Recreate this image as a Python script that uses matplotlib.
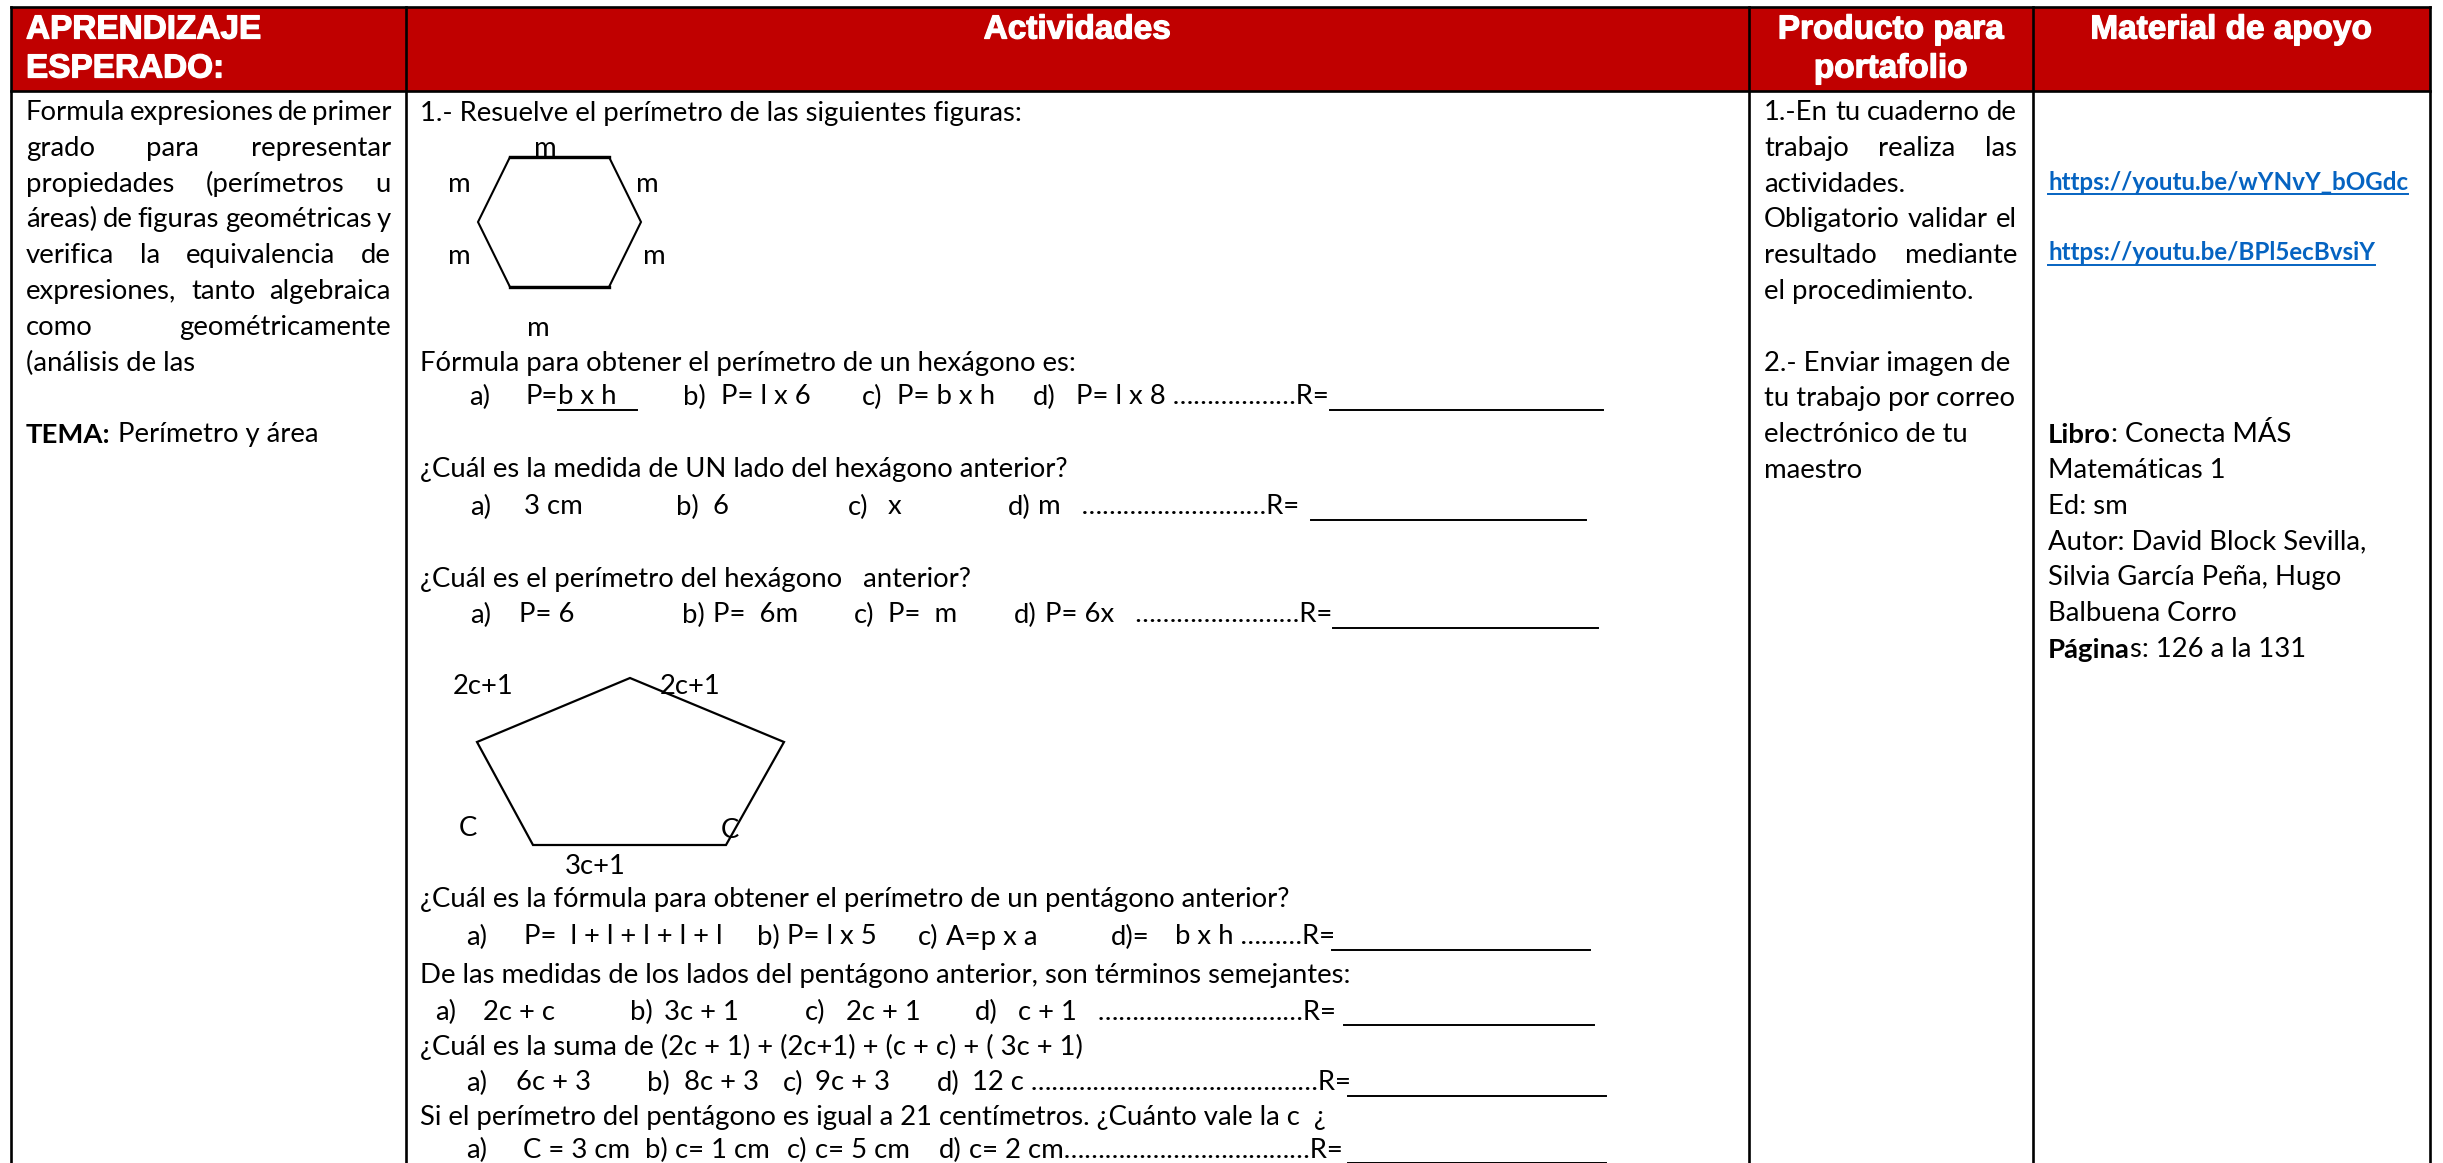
import matplotlib
matplotlib.use('Agg')
import matplotlib.pyplot as plt
from matplotlib.patches import Rectangle, Polygon
import matplotlib.patheffects as pe

# ---------------- content (text data) ----------------
header_aprendizaje = ["APRENDIZAJE", "ESPERADO:"]
header_actividades = "Actividades"
header_producto = ["Producto para", "portafolio"]
header_material = "Material de apoyo"

aprendizaje_lines = [
    "Formula expresiones de primer",
    "grado para representar",
    "propiedades (perímetros u",
    "áreas) de figuras geométricas y",
    "verifica la equivalencia de",
    "expresiones, tanto algebraica",
    "como geométricamente",
    "(análisis de las",
]
aprendizaje_justify = [True, True, True, True, True, True, True, False]
tema_label = "TEMA:"
tema_text = " Perímetro y área"

act_questions = [
    "1.- Resuelve el perímetro de las siguientes figuras:",
    "Fórmula para obtener el perímetro de un hexágono es:",
    "¿Cuál es la medida de UN lado del hexágono anterior?",
    "¿Cuál es el perímetro del hexágono   anterior?",
    "¿Cuál es la fórmula para obtener el perímetro de un pentágono anterior?",
    "De las medidas de los lados del pentágono anterior, son términos semejantes:",
    "¿Cuál es la suma de (2c + 1) + (2c+1) + (c + c) + ( 3c + 1)",
    "Si el perímetro del pentágono es igual a 21 centímetros. ¿Cuánto vale la c  ¿",
]

opt_labels = [
    ["a)", "b)", "c)", "d)"],
    ["a)", "b)", "c)", "d)"],
    ["a)", "b)", "c)", "d)"],
    ["a)", "b)", "c)", "d)="],
    ["a)", "b)", "c)", "d)"],
    ["a)", "b)", "c)", "d)"],
    ["a)", "b)", "c)", "d)"],
]
opt_texts = [
    ["P=", "P= l x 6", "P= b x h", "P= l x 8 "],
    ["3 cm", "6", "x", "m   "],
    ["P= 6", "P=  6m", "P=  m", "P= 6x   "],
    ["P=  l + l + l + l + l", "P= l x 5", "A=p x a", "b x h "],
    ["2c + c", "3c + 1", "2c + 1", "c + 1   "],
    ["6c + 3", "8c + 3", "9c + 3", "12 c "],
    ["C = 3 cm", "c= 1 cm", "c= 5 cm", "c= 2 cm"],
]
underlined_formula = "b x h"
answer_mark = "R="

hexagon_label = "m"
pentagon_labels = ["2c+1", "2c+1", "C", "C", "3c+1"]

producto_lines = [
    "1.-En tu cuaderno de", "trabajo realiza las", "actividades.",
    "Obligatorio validar el", "resultado mediante", "el procedimiento.", "",
    "2.- Enviar imagen de", "tu trabajo por correo", "electrónico de tu", "maestro",
]
producto_justify = [True, True, False, True, True, False, False, False, False, False, False]

links = ["https://youtu.be/wYNvY_bOGdc", "https://youtu.be/BPl5ecBvsiY"]
material_runs = [
    [("Libro", "bold"), (": Conecta MÁS", "normal")],
    [("Matemáticas 1", "normal")],
    [("Ed: sm", "normal")],
    [("Autor: David Block Sevilla,", "normal")],
    [("Silvia García Peña, Hugo", "normal")],
    [("Balbuena Corro", "normal")],
    [("Página", "bold"), ("s: 126 a la 131", "normal")],
]

# ---------------- layout ----------------
W, H = 2443, 1163
fig = plt.figure(figsize=(W / 100, H / 100), dpi=100)
ax = fig.add_axes([0, 0, 1, 1])
ax.set_xlim(0, W)
ax.set_ylim(H, 0)
ax.axis('off')
R = fig.canvas.get_renderer()

BODY = 'Lato'
HEAD = 'Liberation Sans'
RED = '#C00000'
LINKC = '#0563C1'

col_x = [11, 406, 1749, 2033, 2430]
top_y, head_y = 7, 91
LS = 35.8  # line spacing


def measure(s, fs, weight='normal', family=BODY):
    t = ax.text(0, 0, s, fontsize=fs, fontweight=weight, family=family)
    w = t.get_window_extent(R).width
    t.remove()
    return w


def advance(s, fs, weight='normal', family=BODY):
    return measure("|" + s + "|", fs, weight, family) - measure("||", fs, weight, family)


FS = 10 * 656 / measure("Fórmula para obtener el perímetro de un hexágono es:", 10)
HFS = 10 * 234 / measure("APRENDIZAJE", 10, 'bold', HEAD)
LFS = 10 * 362 / measure(links[0], 10, 'bold')


def txt(x, y, s, fs=None, weight='normal', color='black', ha='left', family=BODY):
    fs = FS if fs is None else fs
    t = ax.text(x, y, s, fontsize=fs, fontweight=weight, color=color, ha=ha,
                va='center', family=family)
    return t


def head(x, y, s, ha='left'):
    t = txt(x, y, s, fs=HFS, weight='bold', color='white', ha=ha, family=HEAD)
    t.set_path_effects([pe.withStroke(linewidth=0.9, foreground='white')])


def justify(line, x0, x1, y, just=True, weight='normal'):
    words = line.split()
    if not just or len(words) < 2:
        txt(x0, y, line, weight=weight)
        return
    ws = [measure(w, FS, weight) for w in words]
    gap = (x1 - x0 - sum(ws)) / (len(words) - 1)
    x = x0
    for w, wd in zip(words, ws):
        txt(x, y, w, weight=weight)
        x += wd + gap


def runs(x, y, parts, color='black'):
    for s, wt in parts:
        txt(x, y, s, weight=wt, color=color)
        x += advance(s, FS, wt)


# header band
ax.add_patch(Rectangle((col_x[0], top_y), col_x[-1] - col_x[0], head_y - top_y,
                       facecolor=RED, edgecolor='none', zorder=0))
LW = 1.9
ax.plot([col_x[0], col_x[-1]], [top_y, top_y], color='black', lw=LW, solid_capstyle='projecting')
ax.plot([col_x[0], col_x[-1]], [head_y, head_y], color='black', lw=LW)
for cx in col_x:
    ax.plot([cx, cx], [top_y, H], color='black', lw=LW)

hy1, hy2 = 30, 69
head(26, hy1, header_aprendizaje[0])
head(26, hy2, header_aprendizaje[1])
head((col_x[1] + col_x[2]) / 2, hy1, header_actividades, ha='center')
head((col_x[2] + col_x[3]) / 2, hy1, header_producto[0], ha='center')
head((col_x[2] + col_x[3]) / 2, hy2, header_producto[1], ha='center')
head((col_x[3] + col_x[4]) / 2, hy1, header_material, ha='center')

# column 1
y0 = 112.5
for i, (line, j) in enumerate(zip(aprendizaje_lines, aprendizaje_justify)):
    justify(line, 26, 391, y0 + i * LS, j)
runs(26, y0 + 9 * LS, [(tema_label, 'bold'), (tema_text, 'normal')])

# column 2: questions
AX = 420
q_y = [113, 363, 470, 580, 900, 975, 1047, 1118]
for s, y in zip(act_questions, q_y):
    txt(AX, y, s)

# hexagon
hex_pts = [(510, 157), (609, 157), (641, 222), (609, 287), (510, 287), (478, 222)]
ax.add_patch(Polygon(hex_pts, closed=True, fill=False, edgecolor='black', lw=1.5))
ax.plot([510, 609], [157, 157], color='black', lw=2.4)
ax.plot([510, 609], [287, 287], color='black', lw=2.4)
for (x, y) in [(545, 148), (459, 185), (459, 257), (647, 185), (654, 257), (538, 328)]:
    txt(x, y, hexagon_label, ha='center')

# pentagon
pent_pts = [(630, 678), (784, 742), (726, 845), (533, 845), (477, 742)]
ax.add_patch(Polygon(pent_pts, closed=True, fill=False, edgecolor='black', lw=1.6))
for s, (x, y) in zip(pentagon_labels, [(483, 687), (690, 687), (468, 829), (730, 830), (595, 867)]):
    txt(x, y, s, ha='center')

# option rows
row_y = [397, 507, 615, 937, 1012, 1083, 1150]
row_x = [
    [(469, 525), (683, 721), (862, 897), (1033, 1076)],
    [(470, 524), (676, 713), (848, 888), (1008, 1037)],
    [(470, 519), (682, 713), (854, 888), (1014, 1045)],
    [(466, 524), (757, 780), (918, 937), (1111, 1175)],
    [(435, 483), (630, 664), (805, 846), (975, 1018)],
    [(466, 516), (647, 684), (783, 815), (937, 972)],
    [(466, 523), (645, 669), (787, 815), (939, 968)],
]
r_end = [1327, 1308, 1330, 1329, 1341, 1345, 1345]
blank_end = [1603, 1586, 1598, 1590, 1594, 1606, 1606]

dot_w = measure("…" * 20, FS) / 20
for k in range(len(row_y)):
    y = row_y[k]
    for j in range(4):
        lx, tx = row_x[k][j]
        lab = opt_labels[k][j]
        txt(lx, y, lab)
        tx = max(tx, lx + measure(lab, FS) + 7)
        s = opt_texts[k][j]
        if j < 3:
            txt(tx, y, s)
            if k == 0 and j == 0:
                w = advance(s, FS)
                txt(tx + w, y, underlined_formula)
                ax.plot([tx + w, 637], [y + 13, y + 13], color='black', lw=1.4)
        else:
            base = advance(s, FS)
            wr = measure(answer_mark, FS)
            n = max(1, int(round((r_end[k] - tx - base - wr) / dot_w)))
            txt(tx, y, s + "…" * n + answer_mark)
    ax.plot([r_end[k] + 3, blank_end[k]], [y + 13, y + 13], color='black', lw=1.4)

# column 3
PX0, PX1 = 1764, 2017
for i, (line, j) in enumerate(zip(producto_lines, producto_justify)):
    if line:
        justify(line, PX0, PX1, y0 + i * LS, j)

# column 4
MX = 2048
for s, y in zip(links, [182, 253]):
    txt(MX, y, s, fs=LFS, weight='bold', color=LINKC)
    w = measure(s, LFS, 'bold')
    ax.plot([MX, MX + w], [y + 12, y + 12], color=LINKC, lw=1.4)
for i, parts in enumerate(material_runs):
    runs(MX, y0 + (9 + i) * LS, parts)

fig.savefig('out.png', dpi=100)
